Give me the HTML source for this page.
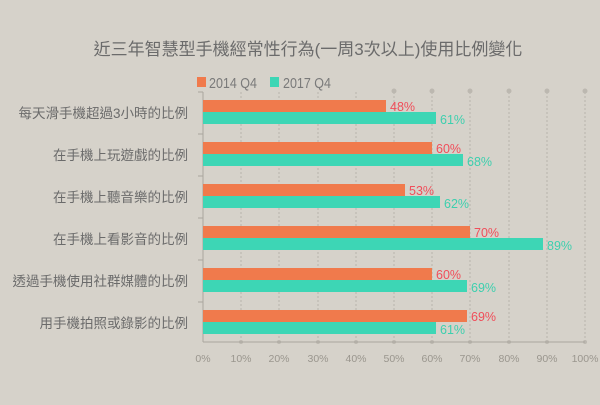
<!DOCTYPE html><html><head><meta charset="utf-8"><style>
body{margin:0;background:#d6d2ca;}
svg text{font-family:"Liberation Sans","Noto Sans CJK TC",sans-serif;}
</style></head><body>
<svg width="600" height="400" xmlns="http://www.w3.org/2000/svg">
<rect width="600" height="400" fill="#d6d2ca"/>
<text x="308" y="55" font-size="17" fill="#6b6b6b" text-anchor="middle">近三年智慧型手機經常性行為(一周3次以上)使用比例變化</text>
<rect x="197" y="77" width="9" height="10" fill="#f07a4c"/>
<text x="209" y="88" font-size="15" fill="#7a7a7a" textLength="48" lengthAdjust="spacingAndGlyphs">2014 Q4</text>
<rect x="270" y="77" width="9" height="10" fill="#3dd6b5"/>
<text x="283" y="88" font-size="15" fill="#7a7a7a" textLength="48" lengthAdjust="spacingAndGlyphs">2017 Q4</text>
<g stroke="#b8b4ac" stroke-dasharray="2,2" stroke-width="1">
<line x1="241" y1="92" x2="241" y2="342"/><line x1="279" y1="92" x2="279" y2="342"/><line x1="318" y1="92" x2="318" y2="342"/><line x1="356" y1="92" x2="356" y2="342"/><line x1="394" y1="92" x2="394" y2="342"/><line x1="432" y1="92" x2="432" y2="342"/><line x1="470" y1="92" x2="470" y2="342"/><line x1="509" y1="92" x2="509" y2="342"/><line x1="547" y1="92" x2="547" y2="342"/><line x1="585" y1="92" x2="585" y2="342"/>
</g>
<g fill="#bcb8b0">
<circle cx="394" cy="91" r="2.5"/><circle cx="432" cy="91" r="2.5"/><circle cx="470" cy="91" r="2.5"/><circle cx="509" cy="91" r="2.5"/><circle cx="547" cy="91" r="2.5"/><circle cx="585" cy="91" r="2.5"/>
<circle cx="241" cy="342" r="2"/><circle cx="279" cy="342" r="2"/><circle cx="318" cy="342" r="2"/><circle cx="356" cy="342" r="2"/><circle cx="394" cy="342" r="2"/><circle cx="432" cy="342" r="2"/><circle cx="470" cy="342" r="2"/><circle cx="509" cy="342" r="2"/><circle cx="547" cy="342" r="2"/><circle cx="585" cy="342" r="2"/>
</g>
<g stroke="#aaa69e" stroke-width="1">
<line x1="203" y1="92" x2="203" y2="342"/><line x1="203" y1="342" x2="585" y2="342"/>
<line x1="198" y1="92" x2="203" y2="92"/><line x1="198" y1="134" x2="203" y2="134"/><line x1="198" y1="176" x2="203" y2="176"/><line x1="198" y1="218" x2="203" y2="218"/><line x1="198" y1="260" x2="203" y2="260"/><line x1="198" y1="302" x2="203" y2="302"/>
</g>
<g font-size="13.5" fill="#6b6b6b" text-anchor="end">
<text x="188" y="118">每天滑手機超過3小時的比例</text>
<text x="188" y="160">在手機上玩遊戲的比例</text>
<text x="188" y="202">在手機上聽音樂的比例</text>
<text x="188" y="244">在手機上看影音的比例</text>
<text x="188" y="286">透過手機使用社群媒體的比例</text>
<text x="188" y="328">用手機拍照或錄影的比例</text>
</g>
<g fill="#f07a4c">
<rect x="203" y="100" width="183" height="12"/><rect x="203" y="142" width="229" height="12"/><rect x="203" y="184" width="202" height="12"/><rect x="203" y="226" width="267" height="12"/><rect x="203" y="268" width="229" height="12"/><rect x="203" y="310" width="264" height="12"/>
</g>
<g fill="#3dd6b5">
<rect x="203" y="112" width="233" height="12"/><rect x="203" y="154" width="260" height="12"/><rect x="203" y="196" width="237" height="12"/><rect x="203" y="238" width="340" height="12"/><rect x="203" y="280" width="264" height="12"/><rect x="203" y="322" width="233" height="12"/>
</g>
<g font-size="12.5" fill="#f04e5a">
<text x="390" y="111">48%</text><text x="436" y="153">60%</text><text x="409" y="195">53%</text><text x="474" y="237">70%</text><text x="436" y="279">60%</text><text x="471" y="321">69%</text>
</g>
<g font-size="12.5" fill="#3dcfae">
<text x="440" y="124">61%</text><text x="467" y="166">68%</text><text x="444" y="208">62%</text><text x="547" y="250">89%</text><text x="471" y="292">69%</text><text x="440" y="334">61%</text>
</g>
<g font-size="10.5" fill="#9a968e" text-anchor="middle">
<text x="203" y="362">0%</text><text x="241" y="362">10%</text><text x="279" y="362">20%</text><text x="318" y="362">30%</text><text x="356" y="362">40%</text><text x="394" y="362">50%</text><text x="432" y="362">60%</text><text x="470" y="362">70%</text><text x="509" y="362">80%</text><text x="547" y="362">90%</text><text x="585" y="362">100%</text>
</g>
</svg>
</body></html>
